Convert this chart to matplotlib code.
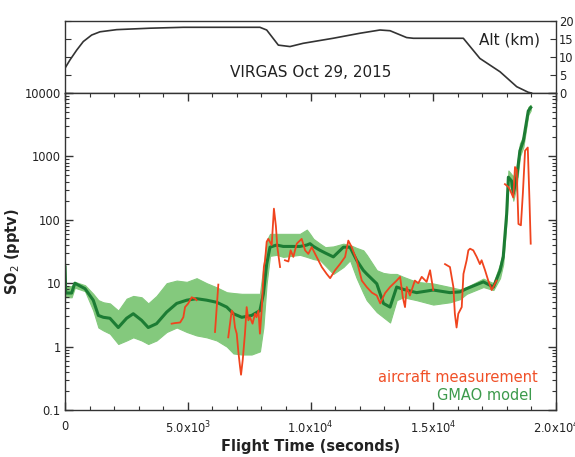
import numpy as np
import matplotlib
matplotlib.use("Agg")
import matplotlib.pyplot as plt
from matplotlib.ticker import FixedLocator, NullFormatter, LogLocator, MultipleLocator

# ---------------- data ----------------
t_model = [0, 30, 270, 400, 815, 1150, 1360, 1560, 1830, 2170, 2510, 2780, 3120, 3390, 3730,
           4140, 4550, 4960, 5360, 5770, 6180, 6590, 6860, 7200, 7600, 7940, 8080, 8215, 8350,
           8620, 8890, 9570, 9850, 9980, 10120, 10390, 10600, 10930, 11340, 11610, 11880, 12150,
           12290, 12700, 12970, 13240, 13510, 13780, 14320, 15000, 15680, 16090, 16360, 17040,
           17450, 17720, 17850, 17990, 18060, 18190, 18260, 18400, 18530, 18670, 18870, 18970]
model_mid = [18, 7, 7, 10, 8.2, 5.4, 3.1, 2.9, 2.8, 2.0, 2.8, 3.3, 2.6, 2.0, 2.3,
             3.5, 4.8, 5.4, 5.7, 5.4, 5.0, 4.2, 3.3, 2.9, 3.1, 3.7, 6.8, 20, 37,
             40, 38, 38, 40, 42, 38, 33, 30, 26, 37, 37, 23, 16,
             14, 9.8, 4.8, 4.2, 8.7, 8.0, 7.1, 7.8, 7.1, 7.3, 8.2, 10.5,
             8.7, 15.8, 26, 123, 470, 410, 260, 470, 1230, 1760, 5200, 5900]
model_hi = [21, 9, 9, 10.5, 9.3, 6.8, 5.4, 5.0, 4.8, 3.7, 5.7, 6.3, 6.0, 4.8, 6.3,
            10, 11, 10.5, 12, 10, 8.6, 7.2, 7.0, 6.8, 6.8, 6.8, 18, 47, 60,
            60, 60, 60, 70, 60, 50, 42, 37, 38, 42, 40, 36, 33,
            28, 16, 14.5, 14, 14, 12.6, 10.5, 9.9, 8.7, 8.0, 8.7, 11.8,
            10, 20, 33, 160, 600, 520, 480, 700, 1600, 2100, 6000, 6500]
model_lo = [6, 6, 6, 8.5, 7.5, 3.7, 2.0, 1.8, 1.6, 1.1, 1.25, 1.4, 1.25, 1.1, 1.25,
            1.7, 2.0, 1.7, 1.5, 1.4, 1.25, 1.0, 0.78, 0.75, 0.75, 0.84, 2.0, 10, 27,
            28, 26, 28, 26, 25, 24, 23, 19, 14, 18, 23, 12, 7,
            5.4, 3.5, 2.9, 2.4, 5.4, 6.0, 5.4, 4.6, 5.0, 5.6, 6.8, 8.7,
            7.8, 12, 20, 100, 380, 300, 200, 350, 1000, 1400, 4500, 5300]

# aircraft measurement (NaN separates gaps)
t_air = [4345, 4480, 4690, 4820, 4890, 5020, 5160, 5300, 5360, np.nan,
         6110, 6245, np.nan,
         6650, 6790, 6860, 6925, 6995, 7060, 7130, 7170, 7240, 7330, 7400, 7470, 7535, 7640,
         7740, 7800, 7880, 7940, 8010, 8100, 8150, 8215, 8280, 8420, 8510, 8590, 8650, 8760, np.nan,
         8960, 9100, 9190, 9300, 9440, 9640, 9780, 9910, 10050, 10250, 10460, 10660, 10800,
         11000, 11200, 11410, 11540, 11680, 11880, 12090, 12290, 12500, 12700, 12840, 13040,
         13240, 13510, 13650, 13760, 13850, 13920, 14050, 14250, 14390, 14530, 14730, 14870,
         15000, np.nan,
         15480, 15680, 15820, 15880, 15950, 16020, 16160, 16230, 16360, 16430, 16500, 16630,
         16770, 16900, 16970, 17110, 17240, 17380, 17580, np.nan,
         17920, 18060, 18120, 18260, 18330, 18400, 18470, 18570, 18650, 18740, 18850, 18920, 18970]
so2_air = [2.3, 2.35, 2.4, 2.9, 4.2, 4.8, 6.0, 5.7, 5.4, np.nan,
           1.7, 9.5, np.nan,
           1.4, 3.7, 3.3, 2.0, 1.6, 0.84, 0.48, 0.36, 0.62, 1.6, 4.2, 2.6, 2.9, 2.3,
           3.3, 2.9, 3.7, 1.6, 3.7, 18, 23, 45, 50, 40, 150, 80, 37, 18, np.nan,
           23, 22, 33, 26, 42, 50, 33, 29, 37, 26, 18, 14, 12,
           16, 20, 26, 47, 37, 23, 11, 8.7, 7.1, 6.4, 4.8, 7,
           8.7, 11, 12.6, 6, 4.2, 8.7, 6.4, 11, 10, 12.6, 10.5, 16,
           7.8, np.nan,
           20, 18, 8.7, 3.3, 2.0, 3.3, 4.2, 14, 23, 33, 35, 33,
           26, 20, 23, 16, 11, 7.8, 11, np.nan,
           365, 330, 300, 225, 680, 610, 86, 82, 260, 1230, 1380, 200, 42]

# altitude (km)
t_alt = [0, 204, 475, 746, 1086, 1425, 2105, 3460, 4820, 6180, 7940, 8215, 8690, 9165, 9700,
         10920, 12015, 12830, 13240, 13915, 14190, 16225, 16900, 17720, 18400, 18870, 19000]
alt_km = [6.9, 9.2, 11.9, 14.3, 16.1, 17.0, 17.6, 18.0, 18.25, 18.25, 18.25, 17.5, 13.3, 12.9, 13.8,
          15.2, 16.6, 17.5, 17.3, 15.4, 15.2, 15.2, 9.6, 5.9, 1.75, 0.2, 0]

x_ticks = [0, 5000, 10000, 15000, 20000]
x_ticklabels = ["0", r"5.0x10$^3$", r"1.0x10$^4$", r"1.5x10$^4$", r"2.0x10$^4$"]
y_ticks = [0.1, 1, 10, 100, 1000, 10000]
y_ticklabels = ["0.1", "1", "10", "100", "1000", "10000"]
alt_ticks = [0, 5, 10, 15, 20]

# ---------------- figure ----------------
plt.rcParams['font.family'] = ['DejaVu Sans']
W, H = 575, 457
fig = plt.figure(figsize=(W / 100, H / 100), dpi=100)

L, R = 65 / W, 556 / W
ax_top = fig.add_axes([L, 1 - 93 / H, R - L, 72 / H])
ax = fig.add_axes([L, 1 - 410 / H, R - L, 317 / H])

spine_c = '#333333'
for a in (ax, ax_top):
    for s in a.spines.values():
        s.set_color(spine_c)
        s.set_linewidth(1.0)

red = '#f0441e'
dgreen = '#1c7c34'
lgreen = '#84c97d'

# main panel
ax.fill_between(t_model, model_lo, model_hi, color=lgreen, lw=0.8, edgecolor=lgreen)
ax.plot(t_model, model_mid, color=dgreen, lw=2.2)
ax.plot(t_air, so2_air, color=red, lw=1.3)
ax.set_yscale('log')
ax.set_xlim(0, 20000)
ax.set_ylim(0.1, 10000)
ax.xaxis.set_major_locator(FixedLocator(x_ticks))
ax.set_xticklabels(x_ticklabels)
ax.xaxis.set_minor_locator(MultipleLocator(1000))
ax.yaxis.set_major_locator(FixedLocator(y_ticks))
ax.set_yticklabels(y_ticklabels)
ax.yaxis.set_minor_locator(LogLocator(base=10, subs=np.arange(2, 10), numticks=20))
ax.yaxis.set_minor_formatter(NullFormatter())
ax.tick_params(which='both', direction='in', top=True, right=True, colors=spine_c,
               labelsize=8.3, labelcolor='#222222')
ax.tick_params(which='major', length=6, width=1)
ax.tick_params(which='minor', length=3, width=0.8)
ax.tick_params(axis='x', pad=7)
ax.tick_params(axis='y', pad=3)
ax.set_xlabel('Flight Time (seconds)', fontsize=10.5, fontweight='bold', color='#222222', labelpad=2)
ax.set_ylabel(r'SO$_2$ (pptv)', fontsize=10.5, fontweight='bold', color='#222222')
ax.yaxis.set_label_coords(-0.088, 0.5)

ax.text(0.963, 0.104, 'aircraft measurement', transform=ax.transAxes, ha='right', va='center',
        fontsize=10.5, color='#f05028')
ax.text(0.951, 0.047, 'GMAO model', transform=ax.transAxes, ha='right', va='center',
        fontsize=10.5, color='#3c9a4c')

# top panel
ax_top.plot(t_alt, alt_km, color='#333333', lw=1.2)
ax_top.set_xlim(0, 20000)
ax_top.set_ylim(0, 20)
ax_top.yaxis.set_major_locator(FixedLocator(alt_ticks))
ax_top.yaxis.tick_right()
ax_top.tick_params(axis='y', which='major', direction='in', left=True, right=True,
                   labelleft=False, labelright=True, length=4, labelsize=8.3,
                   colors=spine_c, labelcolor='#222222', pad=2)
ax_top.tick_params(axis='x', bottom=False, top=False, labelbottom=False)
ax_top.text(0.5, 0.28, 'VIRGAS Oct 29, 2015', transform=ax_top.transAxes, ha='center',
            va='center', fontsize=11, color='#222222')
ax_top.text(0.968, 0.73, 'Alt (km)', transform=ax_top.transAxes, ha='right',
            va='center', fontsize=11, color='#222222')

fig.savefig('out.png', dpi=100)
